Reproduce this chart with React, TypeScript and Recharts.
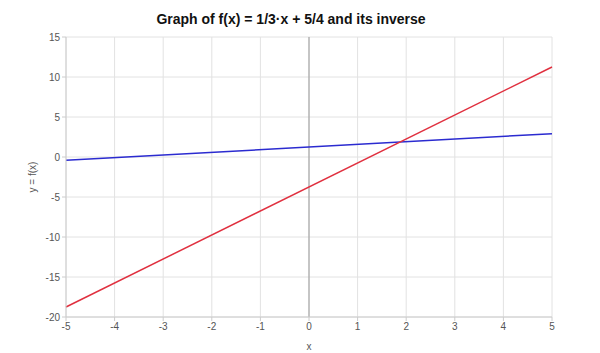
import { CartesianGrid, Label, Line, LineChart, ReferenceLine, XAxis, YAxis } from 'recharts';

// f(x) = x/3 + 5/4 and its inverse, sampled at the ends of the x range
const xValues = [-5, 5];
const fValues = [-0.42, 2.92];
const inverseValues = [-18.75, 11.25];
const xTicks = [-5, -4, -3, -2, -1, 0, 1, 2, 3, 4, 5];
const yTicks = [-20, -15, -10, -5, 0, 5, 10, 15];

const data = xValues.map((x, i) => ({ x, f: fValues[i], inv: inverseValues[i] }));

const tickStyle = { fontSize: 10, fill: '#555', fontFamily: 'Liberation Sans, Arial, sans-serif' };

export default function App() {
  return (
    <div style={{ position: 'absolute', left: 0, top: 0, width: 600, height: 353, background: '#fff' }}>
      <div
        style={{
          position: 'absolute',
          top: 11,
          left: -9,
          width: 600,
          textAlign: 'center',
          fontFamily: 'Liberation Sans, Arial, sans-serif',
          fontWeight: 'bold',
          fontSize: 14,
          color: '#111',
          zIndex: 1,
        }}
      >
        Graph of f(x) = 1/3·x + 5/4 and its inverse
      </div>
      <LineChart width={600} height={353} data={data} margin={{ top: 37, right: 48, bottom: 0, left: 0 }}>
        <CartesianGrid stroke="#e2e2e2" />
        <XAxis
          dataKey="x"
          type="number"
          domain={[-5, 5]}
          ticks={xTicks}
          interval={0}
          height={36}
          tickSize={4}
          tickMargin={2}
          tick={tickStyle}
          stroke="#ccc"
        >
          <Label value="x" position="insideBottom" offset={3} style={tickStyle} />
        </XAxis>
        <YAxis
          type="number"
          domain={[-20, 15]}
          ticks={yTicks}
          interval={0}
          width={66}
          tickSize={4}
          tickMargin={2}
          tick={tickStyle}
          stroke="#ccc"
        >
          <Label value="y = f(x)" angle={-90} position="insideLeft" offset={32} style={{ ...tickStyle, textAnchor: 'middle' }} />
        </YAxis>
        <ReferenceLine x={0} stroke="#999" />
        <Line dataKey="f" stroke="#2b2bd0" strokeWidth={1.5} dot={false} isAnimationActive={false} />
        <Line dataKey="inv" stroke="#e0303f" strokeWidth={1.5} dot={false} isAnimationActive={false} />
      </LineChart>
    </div>
  );
}
